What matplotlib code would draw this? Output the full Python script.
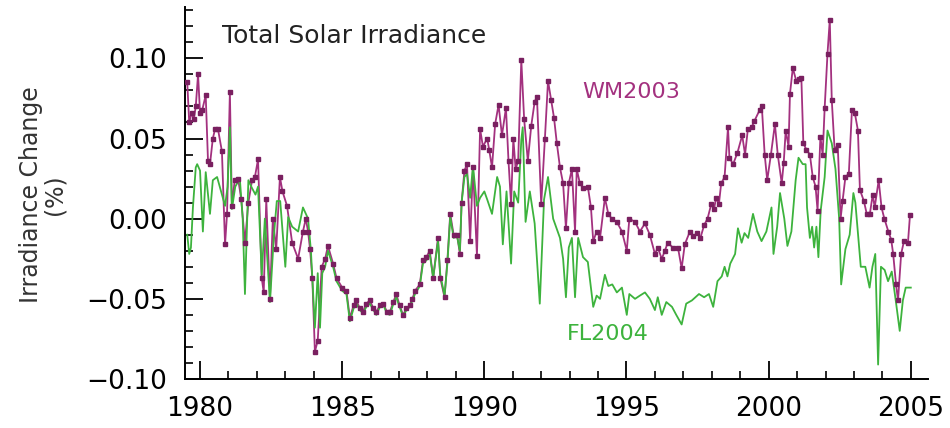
import matplotlib
matplotlib.use('Agg')
import matplotlib.pyplot as plt
from matplotlib.ticker import MultipleLocator, FuncFormatter

# -------------------------------------------------
# DATOS (cambio de irradiancia en %)
# -------------------------------------------------

# Serie WM2003 (purpura, con marcadores)
wm_year = [1979.55, 1979.62, 1979.70, 1979.78, 1979.85, 1979.93, 1980.00, 1980.08, 1980.20, 1980.28,
           1980.35, 1980.45, 1980.53, 1980.63, 1980.77, 1980.88, 1980.95, 1981.05, 1981.12, 1981.22,
           1981.34, 1981.45, 1981.58, 1981.70, 1981.83, 1981.93, 1982.04, 1982.17, 1982.24, 1982.33,
           1982.46, 1982.56, 1982.68, 1982.81, 1982.90, 1983.06, 1983.24, 1983.45, 1983.62, 1983.72,
           1983.80, 1983.87, 1983.95, 1984.04, 1984.14, 1984.28, 1984.40, 1984.50, 1984.68, 1984.80,
           1985.00, 1985.15, 1985.27, 1985.40, 1985.50, 1985.62, 1985.73, 1985.85, 1985.97, 1986.10,
           1986.20, 1986.33, 1986.45, 1986.57, 1986.68, 1986.80, 1986.90, 1987.02, 1987.14, 1987.26,
           1987.38, 1987.47, 1987.56, 1987.73, 1987.84, 1987.96, 1988.08, 1988.20, 1988.37, 1988.45,
           1988.60, 1988.70, 1988.80, 1988.92, 1989.04, 1989.14, 1989.20, 1989.30, 1989.39, 1989.50,
           1989.60, 1989.74, 1989.85, 1989.95, 1990.10, 1990.17, 1990.27, 1990.38, 1990.50, 1990.62,
           1990.76, 1990.85, 1990.94, 1991.02, 1991.10, 1991.19, 1991.30, 1991.40, 1991.53, 1991.65,
           1991.77, 1991.85, 1992.00, 1992.13, 1992.24, 1992.35, 1992.45, 1992.55, 1992.66, 1992.77,
           1992.87, 1992.97, 1993.08, 1993.19, 1993.25, 1993.36, 1993.47, 1993.64, 1993.75, 1993.83,
           1993.95, 1994.07, 1994.24, 1994.36, 1994.48, 1994.66, 1994.84, 1995.01, 1995.10, 1995.30,
           1995.47, 1995.65, 1995.82, 1996.00, 1996.10, 1996.24, 1996.35, 1996.45, 1996.63, 1996.81,
           1996.94, 1997.05, 1997.23, 1997.35, 1997.48, 1997.60, 1997.73, 1997.85, 1997.98, 1998.08,
           1998.15, 1998.25, 1998.33, 1998.45, 1998.57, 1998.62, 1998.75, 1998.90, 1999.07, 1999.17,
           1999.27, 1999.40, 1999.50, 1999.69, 1999.76, 1999.86, 1999.95, 2000.08, 2000.22, 2000.32,
           2000.46, 2000.53, 2000.60, 2000.70, 2000.75, 2000.85, 2000.97, 2001.05, 2001.15, 2001.22,
           2001.33, 2001.45, 2001.55, 2001.65, 2001.72, 2001.82, 2001.90, 2001.97, 2002.07, 2002.15,
           2002.22, 2002.32, 2002.43, 2002.53, 2002.60, 2002.70, 2002.82, 2002.93, 2003.03, 2003.14,
           2003.21, 2003.35, 2003.45, 2003.56, 2003.66, 2003.73, 2003.87, 2003.97, 2004.07, 2004.21,
           2004.31, 2004.38, 2004.48, 2004.55, 2004.66, 2004.76, 2004.90, 2004.97]
wm_val = [0.085, 0.060, 0.066, 0.062, 0.070, 0.090, 0.066, 0.068, 0.077, 0.036,
          0.034, 0.050, 0.056, 0.056, 0.042, -0.016, 0.003, 0.079, 0.008, 0.024,
          0.025, 0.012, -0.015, 0.010, 0.024, 0.026, 0.037, -0.037, -0.046, 0.012,
          -0.050, 0.000, -0.019, 0.026, 0.017, 0.008, -0.015, -0.025, -0.008, 0.000,
          -0.008, -0.019, -0.037, -0.083, -0.076, -0.030, -0.025, -0.017, -0.028, -0.037,
          -0.043, -0.045, -0.062, -0.054, -0.051, -0.056, -0.058, -0.053, -0.051, -0.056,
          -0.058, -0.054, -0.053, -0.058, -0.058, -0.052, -0.047, -0.054, -0.060, -0.056,
          -0.054, -0.050, -0.045, -0.041, -0.026, -0.024, -0.020, -0.037, -0.012, -0.037,
          -0.049, -0.026, 0.003, -0.010, -0.010, -0.022, 0.010, 0.030, 0.034, -0.014,
          0.032, -0.023, 0.056, 0.045, 0.050, 0.043, 0.032, 0.059, 0.071, 0.052,
          0.069, 0.036, 0.009, 0.050, 0.031, 0.036, 0.099, 0.062, 0.036, 0.058,
          0.073, 0.076, 0.009, 0.050, 0.086, 0.074, 0.063, 0.047, 0.032, 0.022,
          -0.006, 0.022, 0.031, -0.008, 0.031, 0.022, 0.019, 0.020, 0.007, -0.014,
          -0.008, -0.012, 0.013, 0.003, 0.000, -0.002, -0.008, -0.020, 0.000, -0.002,
          -0.008, -0.003, -0.010, -0.022, -0.018, -0.025, -0.020, -0.015, -0.018, -0.018,
          -0.031, -0.016, -0.008, -0.011, -0.009, -0.012, -0.004, 0.000, 0.009, 0.006,
          0.013, 0.009, 0.022, 0.026, 0.057, 0.038, 0.034, 0.041, 0.052, 0.040,
          0.056, 0.057, 0.061, 0.068, 0.070, 0.040, 0.024, 0.040, 0.059, 0.040,
          0.022, 0.035, 0.055, 0.045, 0.078, 0.094, 0.086, 0.087, 0.088, 0.047,
          0.043, 0.040, 0.026, 0.020, 0.005, 0.051, 0.040, 0.069, 0.103, 0.124,
          0.074, 0.043, 0.046, 0.000, 0.011, 0.026, 0.028, 0.068, 0.066, 0.055,
          0.018, 0.011, 0.003, 0.003, 0.015, 0.007, 0.024, 0.007, 0.000, -0.008,
          -0.013, -0.022, -0.041, -0.051, -0.022, -0.014, -0.015, 0.002]

# Serie FL2004 (verde, solo linea)
fl_year = [1979.55, 1979.62, 1979.68, 1979.75, 1979.85, 1979.90, 1980.00, 1980.10, 1980.20, 1980.35,
           1980.45, 1980.60, 1980.77, 1980.88, 1980.97, 1981.05, 1981.12, 1981.24, 1981.40, 1981.50,
           1981.58, 1981.70, 1981.83, 1981.95, 1982.04, 1982.17, 1982.28, 1982.46, 1982.60, 1982.70,
           1982.82, 1983.00, 1983.10, 1983.24, 1983.45, 1983.62, 1983.80, 1983.90, 1984.04, 1984.14,
           1984.22, 1984.30, 1984.40, 1984.50, 1984.68, 1984.80, 1985.00, 1985.15, 1985.27, 1985.40,
           1985.50, 1985.62, 1985.73, 1985.85, 1985.97, 1986.10, 1986.20, 1986.33, 1986.45, 1986.57,
           1986.68, 1986.80, 1986.90, 1987.02, 1987.14, 1987.26, 1987.38, 1987.47, 1987.56, 1987.73,
           1987.84, 1987.96, 1988.08, 1988.20, 1988.37, 1988.45, 1988.60, 1988.70, 1988.80, 1988.92,
           1989.04, 1989.14, 1989.20, 1989.30, 1989.39, 1989.50, 1989.60, 1989.74, 1989.85, 1990.00,
           1990.10, 1990.27, 1990.45, 1990.55, 1990.65, 1990.78, 1990.94, 1991.05, 1991.19, 1991.30,
           1991.35, 1991.45, 1991.60, 1991.77, 1991.95, 1992.10, 1992.24, 1992.42, 1992.66, 1992.77,
           1992.87, 1992.97, 1993.08, 1993.19, 1993.30, 1993.47, 1993.64, 1993.83, 1993.95, 1994.07,
           1994.24, 1994.36, 1994.50, 1994.66, 1994.84, 1995.01, 1995.10, 1995.30, 1995.47, 1995.65,
           1995.82, 1996.00, 1996.10, 1996.24, 1996.40, 1996.60, 1996.75, 1996.94, 1997.10, 1997.30,
           1997.55, 1997.73, 1997.90, 1998.05, 1998.20, 1998.35, 1998.45, 1998.55, 1998.65, 1998.82,
           1998.92, 1999.05, 1999.15, 1999.28, 1999.45, 1999.60, 1999.75, 1999.92, 2000.10, 2000.17,
           2000.30, 2000.40, 2000.55, 2000.66, 2000.80, 2000.95, 2001.05, 2001.20, 2001.30, 2001.35,
           2001.45, 2001.53, 2001.60, 2001.68, 2001.75, 2001.83, 2001.97, 2002.07, 2002.22, 2002.35,
           2002.48, 2002.55, 2002.70, 2002.85, 2002.98, 2003.05, 2003.24, 2003.40, 2003.55, 2003.65,
           2003.75, 2003.85, 2003.95, 2004.08, 2004.20, 2004.33, 2004.47, 2004.61, 2004.72, 2004.82,
           2005.00]
fl_val = [-0.010, -0.022, -0.018, 0.007, 0.032, 0.034, 0.030, -0.008, 0.029, 0.003,
          0.024, 0.026, 0.015, 0.008, 0.020, 0.057, 0.006, 0.020, 0.025, 0.000,
          -0.047, 0.024, 0.019, 0.015, 0.020, -0.035, 0.000, -0.052, -0.010, 0.011,
          0.011, -0.030, 0.001, -0.005, -0.008, 0.007, 0.000, -0.020, -0.068, -0.034,
          -0.068, -0.034, -0.030, -0.020, -0.030, -0.039, -0.045, -0.047, -0.064, -0.056,
          -0.053, -0.057, -0.059, -0.055, -0.053, -0.057, -0.060, -0.055, -0.054, -0.059,
          -0.060, -0.053, -0.049, -0.055, -0.061, -0.057, -0.055, -0.051, -0.047, -0.042,
          -0.028, -0.026, -0.022, -0.037, -0.014, -0.035, -0.048, -0.028, 0.001, -0.012,
          -0.011, -0.020, 0.010, 0.026, 0.028, 0.013, 0.033, 0.008, 0.013, 0.017,
          0.012, 0.003, 0.026, 0.020, -0.016, 0.017, -0.028, 0.017, 0.010, 0.049,
          0.057, -0.002, 0.017, -0.003, -0.053, 0.012, 0.026, 0.000, -0.012, -0.025,
          -0.049, -0.018, -0.012, -0.049, -0.012, -0.024, -0.027, -0.055, -0.048, -0.050,
          -0.035, -0.042, -0.041, -0.046, -0.043, -0.060, -0.047, -0.050, -0.048, -0.046,
          -0.050, -0.057, -0.049, -0.060, -0.052, -0.055, -0.060, -0.066, -0.053, -0.051,
          -0.047, -0.049, -0.047, -0.055, -0.039, -0.036, -0.030, -0.036, -0.028, -0.022,
          -0.006, -0.015, -0.009, -0.012, 0.003, -0.008, -0.014, -0.008, 0.007, -0.022,
          -0.005, 0.016, 0.000, -0.017, -0.008, 0.024, 0.038, 0.034, 0.034, 0.007,
          -0.012, -0.005, -0.018, -0.005, -0.024, 0.005, 0.026, 0.055, 0.047, 0.031,
          0.000, -0.041, -0.019, -0.010, 0.016, 0.010, -0.030, -0.030, -0.043, -0.030,
          -0.022, -0.091, -0.030, -0.032, -0.039, -0.033, -0.051, -0.070, -0.051, -0.043,
          -0.043]

year_ticks = [1980, 1985, 1990, 1995, 2000, 2005]

color_wm = '#a3317f'
color_wm_mark = '#7a2060'
color_fl = '#3db33d'

# -------------------------------------------------
# GRAFICO
# -------------------------------------------------
fig = plt.figure(figsize=(9.5, 4.28), dpi=100)
ax = fig.add_axes([0.1947, 0.1145, 0.782, 0.869])

ax.plot(wm_year, wm_val, color=color_wm, linewidth=1.3, zorder=2)
ax.plot(fl_year, fl_val, color=color_fl, linewidth=1.3, zorder=3)
ax.plot(wm_year, wm_val, linestyle='none', marker='s', markersize=2.6,
        color=color_wm_mark, zorder=4)

ax.set_xlim(1979.47, 2005.6)
ax.set_ylim(-0.10, 0.132)

# Ejes estilo IDL: solo izquierda y abajo, ticks hacia dentro
ax.spines['top'].set_visible(False)
ax.spines['right'].set_visible(False)
ax.spines['left'].set_linewidth(1.4)
ax.spines['bottom'].set_linewidth(1.4)

ax.set_xticks(year_ticks)
ax.xaxis.set_minor_locator(MultipleLocator(1))
ax.yaxis.set_major_locator(MultipleLocator(0.05))
ax.yaxis.set_minor_locator(MultipleLocator(0.01))
# etiquetas con signo menos tipografico
ax.yaxis.set_major_formatter(FuncFormatter(lambda v, pos: ('%.2f' % v).replace('-', '\u2212')))

ax.tick_params(which='major', direction='in', length=13, width=1.3, labelsize=19, pad=12)
ax.tick_params(which='minor', direction='in', length=6, width=1.2)
ax.tick_params(axis='y', which='major', pad=13)

# Textos
ax.text(1980.77, 0.114, 'Total Solar Irradiance', fontsize=18, ha='left', va='center', color='#222222')
ax.text(1995.15, 0.079, 'WM2003', fontsize=16, ha='center', va='center', color=color_wm)
ax.text(1994.35, -0.072, 'FL2004', fontsize=16, ha='center', va='center', color=color_fl)

fig.text(0.045, 0.545, 'Irradiance Change\n(%)', rotation=90, fontsize=17,
         ha='center', va='center', multialignment='center', linespacing=0.95, color='#333333')

fig.savefig('out.png', dpi=100)
